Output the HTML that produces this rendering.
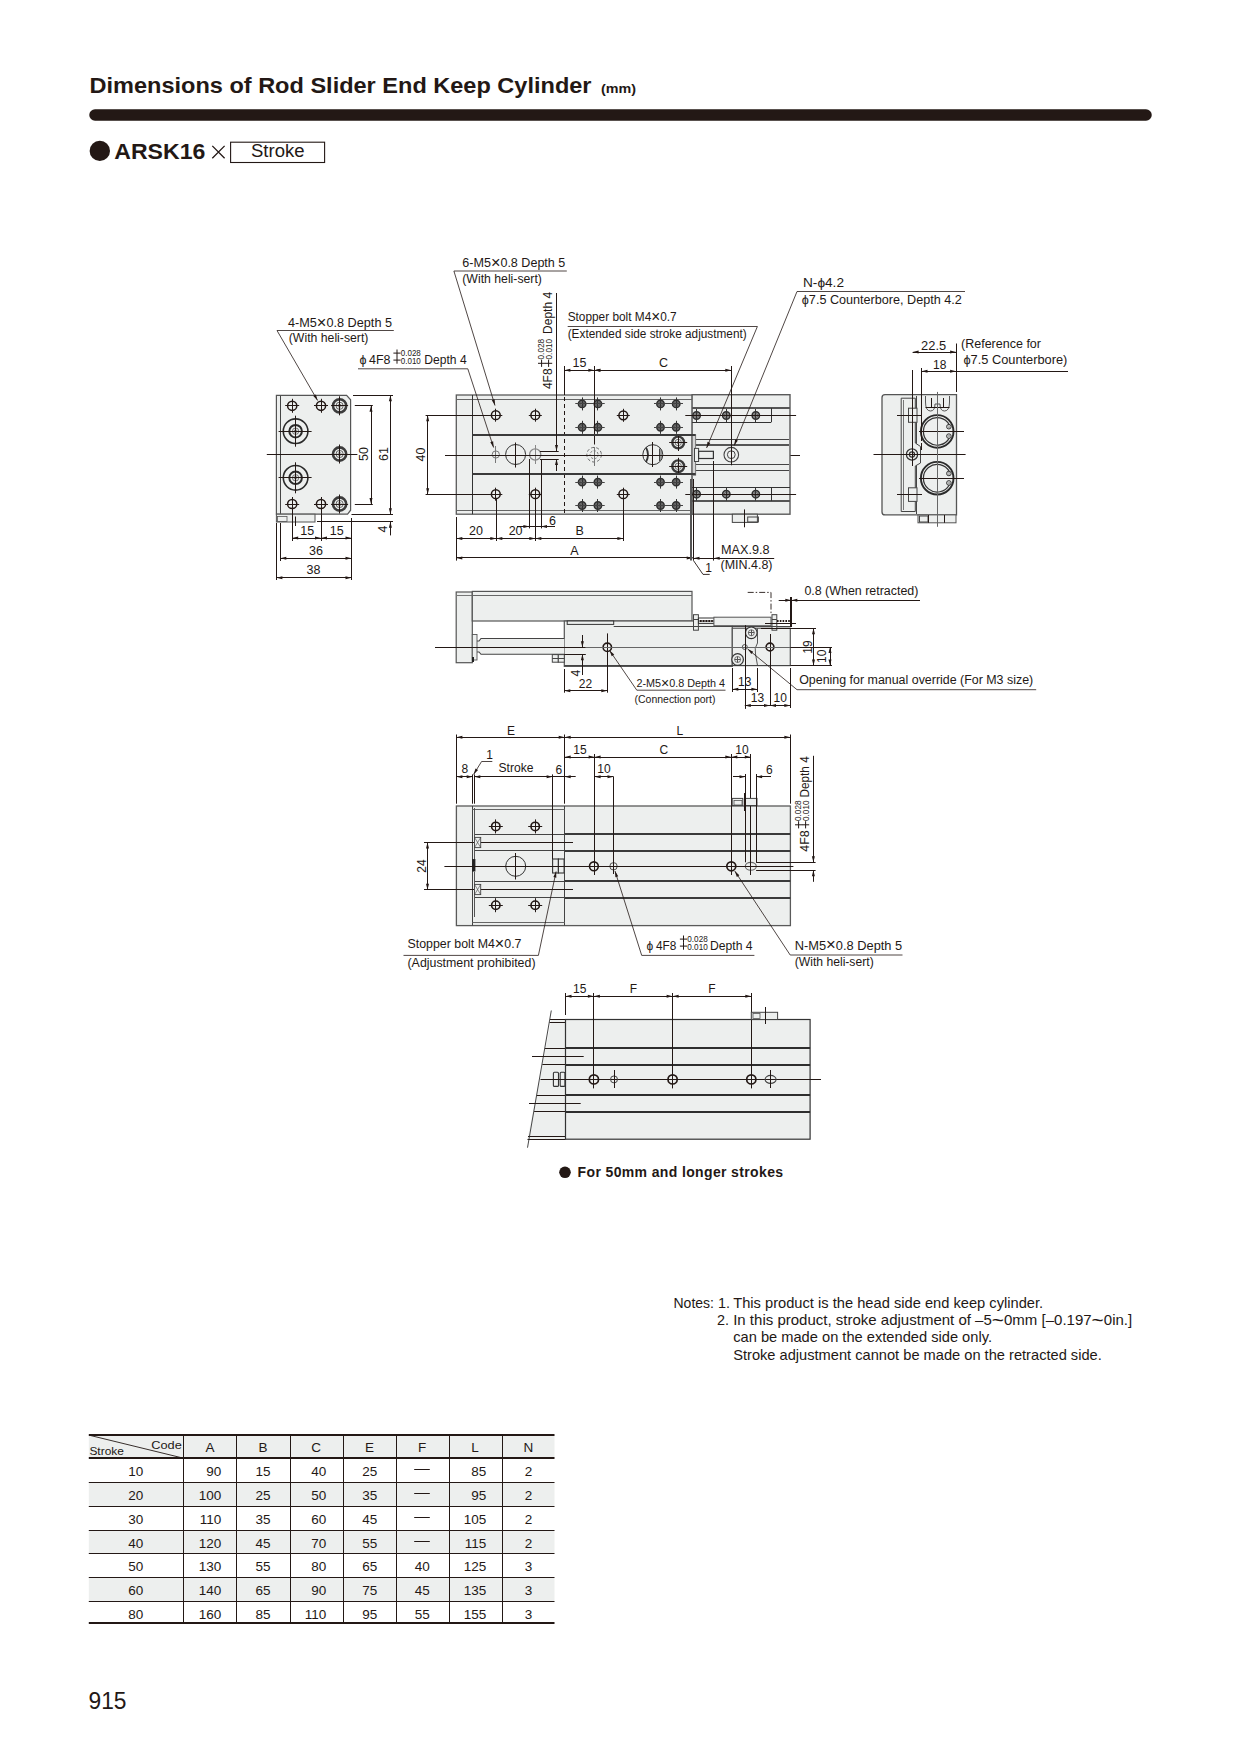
<!DOCTYPE html>
<html><head><meta charset="utf-8">
<style>
html,body{margin:0;padding:0;background:#fff;}
body{width:1240px;height:1754px;overflow:hidden;position:relative;}
svg{position:absolute;left:0;top:0;}
text{font-family:"Liberation Sans",sans-serif;fill:#231815;}
.b{font-weight:bold;}
</style></head>
<body>
<svg width="1240" height="1754" viewBox="0 0 1240 1754">
<!-- HEADER -->
<g id="header">
<text x="89.5" y="92.7" class="b" font-size="21.8" textLength="502" lengthAdjust="spacingAndGlyphs">Dimensions of Rod Slider End Keep Cylinder</text>
<text x="601" y="92.6" class="b" font-size="12.5" textLength="35" lengthAdjust="spacingAndGlyphs">(mm)</text>
<line x1="95" y1="115" x2="1146" y2="115" stroke="#231815" stroke-width="11.5" stroke-linecap="round"/>
<circle cx="99.8" cy="150.9" r="10.2" fill="#231815"/>
<text x="114.3" y="159.4" class="b" font-size="21.2" textLength="91" lengthAdjust="spacingAndGlyphs">ARSK16</text>
<path d="M212.3,145.9 L224.6,158.2 M224.6,145.9 L212.3,158.2" stroke="#231815" stroke-width="1.3" fill="none"/>
<rect x="230.6" y="142.2" width="94" height="20.3" fill="none" stroke="#231815" stroke-width="1.1"/>
<text x="251" y="157.3" font-size="17.5" textLength="53.5" lengthAdjust="spacingAndGlyphs">Stroke</text>
</g>

<!-- DRAWINGS -->
<g id="drawings">
<path d="M276.4,395.3 L346.6,395.3 L350.6,399.8 L350.6,510.2 L347.6,514.2 L276.4,514.2 Z" fill="#edefee" stroke="#555" stroke-width="1.2" />
<line x1="280.5" y1="395.8" x2="280.5" y2="513.8" stroke="#444" stroke-width="1" />
<rect x="276.4" y="514.2" width="38.6" height="7.8" fill="#edefee" stroke="#555" stroke-width="1" />
<rect x="277.5" y="516.5" width="9.5" height="5" fill="none" stroke="#555" stroke-width="0.8" />
<line x1="295.5" y1="516.5" x2="295.5" y2="526" stroke="#231815" stroke-width="1" />
<circle cx="292.2" cy="405.8" r="4.6" fill="none" stroke="#231815" stroke-width="1.5" />
<line x1="285.2" y1="405.5" x2="299.2" y2="405.5" stroke="#231815" stroke-width="1" />
<line x1="292.5" y1="398.8" x2="292.5" y2="412.8" stroke="#231815" stroke-width="1" />
<circle cx="321" cy="405.8" r="4.6" fill="none" stroke="#231815" stroke-width="1.5" />
<line x1="314" y1="405.5" x2="328" y2="405.5" stroke="#231815" stroke-width="1" />
<line x1="321.5" y1="398.8" x2="321.5" y2="412.8" stroke="#231815" stroke-width="1" />
<circle cx="292.2" cy="504" r="4.6" fill="none" stroke="#231815" stroke-width="1.5" />
<line x1="285.2" y1="504.5" x2="299.2" y2="504.5" stroke="#231815" stroke-width="1" />
<line x1="292.5" y1="497" x2="292.5" y2="511" stroke="#231815" stroke-width="1" />
<circle cx="321" cy="504" r="4.6" fill="none" stroke="#231815" stroke-width="1.5" />
<line x1="314" y1="504.5" x2="328" y2="504.5" stroke="#231815" stroke-width="1" />
<line x1="321.5" y1="497" x2="321.5" y2="511" stroke="#231815" stroke-width="1" />
<circle cx="339.6" cy="405.8" r="6.6" fill="none" stroke="#3c3c3c" stroke-width="2.6" />
<circle cx="339.6" cy="405.8" r="3.6" fill="none" stroke="#444" stroke-width="0.8" />
<circle cx="339.6" cy="405.8" r="1.6" fill="none" stroke="#444" stroke-width="0.6" />
<line x1="331.1" y1="405.5" x2="348.1" y2="405.5" stroke="#231815" stroke-width="1" />
<line x1="339.5" y1="396.3" x2="339.5" y2="415.3" stroke="#231815" stroke-width="1" />
<circle cx="339.6" cy="454" r="6.6" fill="none" stroke="#3c3c3c" stroke-width="2.6" />
<circle cx="339.6" cy="454" r="3.6" fill="none" stroke="#444" stroke-width="0.8" />
<circle cx="339.6" cy="454" r="1.6" fill="none" stroke="#444" stroke-width="0.6" />
<line x1="331.1" y1="454.5" x2="348.1" y2="454.5" stroke="#231815" stroke-width="1" />
<line x1="339.5" y1="444.5" x2="339.5" y2="463.5" stroke="#231815" stroke-width="1" />
<circle cx="339.6" cy="504" r="6.6" fill="none" stroke="#3c3c3c" stroke-width="2.6" />
<circle cx="339.6" cy="504" r="3.6" fill="none" stroke="#444" stroke-width="0.8" />
<circle cx="339.6" cy="504" r="1.6" fill="none" stroke="#444" stroke-width="0.6" />
<line x1="331.1" y1="504.5" x2="348.1" y2="504.5" stroke="#231815" stroke-width="1" />
<line x1="339.5" y1="494.5" x2="339.5" y2="513.5" stroke="#231815" stroke-width="1" />
<circle cx="295.6" cy="431.2" r="12.3" fill="none" stroke="#2a2a2a" stroke-width="1.6" />
<circle cx="295.6" cy="431.2" r="6.3" fill="none" stroke="#2a2a2a" stroke-width="2" />
<circle cx="295.6" cy="431.2" r="3.2" fill="none" stroke="#444" stroke-width="0.7" />
<circle cx="295.6" cy="431.2" r="1.4" fill="none" stroke="#444" stroke-width="0.6" />
<line x1="278.6" y1="431.5" x2="311.6" y2="431.5" stroke="#231815" stroke-width="1" />
<line x1="295.5" y1="415.7" x2="295.5" y2="446.7" stroke="#231815" stroke-width="1" />
<circle cx="295.6" cy="477.8" r="12.3" fill="none" stroke="#2a2a2a" stroke-width="1.6" />
<circle cx="295.6" cy="477.8" r="6.3" fill="none" stroke="#2a2a2a" stroke-width="2" />
<circle cx="295.6" cy="477.8" r="3.2" fill="none" stroke="#444" stroke-width="0.7" />
<circle cx="295.6" cy="477.8" r="1.4" fill="none" stroke="#444" stroke-width="0.6" />
<line x1="278.6" y1="477.5" x2="311.6" y2="477.5" stroke="#231815" stroke-width="1" />
<line x1="295.5" y1="462.3" x2="295.5" y2="493.3" stroke="#231815" stroke-width="1" />
<line x1="266.8" y1="454.5" x2="357.4" y2="454.5" stroke="#231815" stroke-width="1" />
<line x1="354.8" y1="405.5" x2="372.8" y2="405.5" stroke="#231815" stroke-width="1" />
<line x1="354.8" y1="504.5" x2="372.8" y2="504.5" stroke="#231815" stroke-width="1" />
<line x1="371.5" y1="405.8" x2="371.5" y2="504" stroke="#231815" stroke-width="1" />
<polygon points="371,405.8 372.5,411.8 369.5,411.8" fill="#231815"/>
<polygon points="371,504 369.5,498 372.5,498" fill="#231815"/>
<line x1="353" y1="395.5" x2="393" y2="395.5" stroke="#231815" stroke-width="1" />
<line x1="351.5" y1="514.5" x2="393" y2="514.5" stroke="#231815" stroke-width="1" />
<line x1="317" y1="521.5" x2="393" y2="521.5" stroke="#231815" stroke-width="1" />
<line x1="390.5" y1="395.3" x2="390.5" y2="514.2" stroke="#231815" stroke-width="1" />
<polygon points="390.4,395.3 391.9,401.3 388.9,401.3" fill="#231815"/>
<polygon points="390.4,514.2 388.9,508.2 391.9,508.2" fill="#231815"/>
<line x1="390.5" y1="521.8" x2="390.5" y2="535.4" stroke="#231815" stroke-width="1" />
<polygon points="390.4,521.8 391.9,527.8 388.9,527.8" fill="#231815"/>
<text x="367.8" y="454" font-size="12.5" text-anchor="middle" transform="rotate(-90 367.8 454)" >50</text>
<text x="387.6" y="454" font-size="12.5" text-anchor="middle" transform="rotate(-90 387.6 454)" >61</text>
<text x="387.2" y="529" font-size="12.5" text-anchor="middle" transform="rotate(-90 387.2 529)" >4</text>
<line x1="292.5" y1="509" x2="292.5" y2="541" stroke="#231815" stroke-width="1" />
<line x1="321.5" y1="509" x2="321.5" y2="541" stroke="#231815" stroke-width="1" />
<line x1="351.5" y1="518" x2="351.5" y2="580" stroke="#231815" stroke-width="1" />
<line x1="280.5" y1="523" x2="280.5" y2="561" stroke="#231815" stroke-width="1" />
<line x1="276.5" y1="523" x2="276.5" y2="580" stroke="#231815" stroke-width="1" />
<line x1="292.2" y1="538.5" x2="321" y2="538.5" stroke="#231815" stroke-width="1" />
<polygon points="292.2,538 298.2,536.5 298.2,539.5" fill="#231815"/>
<polygon points="321,538 315,539.5 315,536.5" fill="#231815"/>
<line x1="321" y1="538.5" x2="351.5" y2="538.5" stroke="#231815" stroke-width="1" />
<polygon points="321,538 327,536.5 327,539.5" fill="#231815"/>
<polygon points="351.5,538 345.5,539.5 345.5,536.5" fill="#231815"/>
<line x1="280.3" y1="558.5" x2="351.5" y2="558.5" stroke="#231815" stroke-width="1" />
<polygon points="280.3,558.3 286.3,556.8 286.3,559.8" fill="#231815"/>
<polygon points="351.5,558.3 345.5,559.8 345.5,556.8" fill="#231815"/>
<line x1="276.4" y1="577.5" x2="351.5" y2="577.5" stroke="#231815" stroke-width="1" />
<polygon points="276.4,577.7 282.4,576.2 282.4,579.2" fill="#231815"/>
<polygon points="351.5,577.7 345.5,579.2 345.5,576.2" fill="#231815"/>
<text x="307.2" y="535.4" font-size="12.5" text-anchor="middle" >15</text>
<text x="336.8" y="535.4" font-size="12.5" text-anchor="middle" >15</text>
<text x="316" y="554.9" font-size="12.5" text-anchor="middle" >36</text>
<text x="313.5" y="574.3" font-size="12.5" text-anchor="middle" >38</text>
<text x="288" y="327" font-size="12" textLength="104" lengthAdjust="spacingAndGlyphs" >4-M5<tspan font-size="15.6" dy="0.8">×</tspan><tspan dy="-0.8">0.8 Depth 5</tspan></text>
<text x="288.8" y="342.3" font-size="12" textLength="79.6" lengthAdjust="spacingAndGlyphs" >(With heli-sert)</text>
<polyline points="393.8,330.5 277,330.5 317.6,400.5" fill="none" stroke="#231815" stroke-width="0.8" />
<polygon points="317.6,400.5 313.29,396.06 315.89,394.56" fill="#231815"/>
<text x="359.5" y="363.5" font-size="12.5" >ϕ</text>
<text x="369" y="363.5" font-size="12.5" textLength="21.5" lengthAdjust="spacingAndGlyphs" >4F8</text>
<g transform="translate(393 363.5)">
<path d="M0.4,-10.4 L7.6,-10.4 M4,-14 L4,-6.8" stroke="#231815" stroke-width="1.0" fill="none"/>
<path d="M0.4,-3.4 L7.6,-3.4 M4,-7 L4,0.2" stroke="#231815" stroke-width="1.0" fill="none"/>
<text x="7.8" y="-7.6" font-size="8.3" textLength="20" lengthAdjust="spacingAndGlyphs">0.028</text>
<text x="7.8" y="0" font-size="8.3" textLength="20" lengthAdjust="spacingAndGlyphs">0.010</text>
</g>
<text x="424.3" y="363.5" font-size="12.5" textLength="42.3" lengthAdjust="spacingAndGlyphs" >Depth 4</text>
<rect x="456.3" y="395" width="236" height="119.2" fill="#edefee" stroke="#5a5a5a" stroke-width="1.3" />
<line x1="456.3" y1="399.5" x2="692.3" y2="399.5" stroke="#666" stroke-width="1" />
<line x1="456.3" y1="510.5" x2="692.3" y2="510.5" stroke="#666" stroke-width="1" />
<line x1="472.5" y1="395" x2="472.5" y2="514.2" stroke="#333" stroke-width="1" />
<line x1="472.4" y1="435" x2="692.3" y2="435" stroke="#3a3a3a" stroke-width="2" />
<line x1="472.4" y1="474" x2="692.3" y2="474" stroke="#3a3a3a" stroke-width="2" />
<line x1="564.5" y1="366" x2="564.5" y2="395" stroke="#231815" stroke-width="1" />
<line x1="564.5" y1="397" x2="564.5" y2="514.2" stroke="#231815" stroke-width="1" stroke-dasharray="4,3"/>
<circle cx="495.8" cy="415.2" r="4.4" fill="none" stroke="#231815" stroke-width="1.5" />
<line x1="489.3" y1="415.5" x2="502.3" y2="415.5" stroke="#231815" stroke-width="1" />
<line x1="495.5" y1="408.7" x2="495.5" y2="421.7" stroke="#231815" stroke-width="1" />
<circle cx="535.3" cy="415.2" r="4.4" fill="none" stroke="#231815" stroke-width="1.5" />
<line x1="528.8" y1="415.5" x2="541.8" y2="415.5" stroke="#231815" stroke-width="1" />
<line x1="535.5" y1="408.7" x2="535.5" y2="421.7" stroke="#231815" stroke-width="1" />
<circle cx="495.8" cy="494.2" r="4.4" fill="none" stroke="#231815" stroke-width="1.5" />
<line x1="489.3" y1="494.5" x2="502.3" y2="494.5" stroke="#231815" stroke-width="1" />
<line x1="495.5" y1="487.7" x2="495.5" y2="500.7" stroke="#231815" stroke-width="1" />
<circle cx="535.3" cy="494.2" r="4.4" fill="none" stroke="#231815" stroke-width="1.5" />
<line x1="528.8" y1="494.5" x2="541.8" y2="494.5" stroke="#231815" stroke-width="1" />
<line x1="535.5" y1="487.7" x2="535.5" y2="500.7" stroke="#231815" stroke-width="1" />
<circle cx="623.3" cy="415.3" r="4.4" fill="none" stroke="#231815" stroke-width="1.5" />
<line x1="616.8" y1="415.5" x2="629.8" y2="415.5" stroke="#231815" stroke-width="1" />
<line x1="623.5" y1="408.8" x2="623.5" y2="421.8" stroke="#231815" stroke-width="1" />
<circle cx="623.3" cy="494.2" r="4.4" fill="none" stroke="#231815" stroke-width="1.5" />
<line x1="616.8" y1="494.5" x2="629.8" y2="494.5" stroke="#231815" stroke-width="1" />
<line x1="623.5" y1="487.7" x2="623.5" y2="500.7" stroke="#231815" stroke-width="1" />
<circle cx="582.1" cy="403.9" r="3.7" fill="#707070" stroke="#2e2e2e" stroke-width="1.5" />
<circle cx="582.1" cy="403.9" r="2" fill="none" stroke="#555" stroke-width="0.7" />
<line x1="575.6" y1="403.5" x2="588.6" y2="403.5" stroke="#333" stroke-width="1" />
<line x1="582.5" y1="397.4" x2="582.5" y2="410.4" stroke="#333" stroke-width="1" />
<circle cx="582.1" cy="427.3" r="3.7" fill="#707070" stroke="#2e2e2e" stroke-width="1.5" />
<circle cx="582.1" cy="427.3" r="2" fill="none" stroke="#555" stroke-width="0.7" />
<line x1="575.6" y1="427.5" x2="588.6" y2="427.5" stroke="#333" stroke-width="1" />
<line x1="582.5" y1="420.8" x2="582.5" y2="433.8" stroke="#333" stroke-width="1" />
<circle cx="582.1" cy="482.1" r="3.7" fill="#707070" stroke="#2e2e2e" stroke-width="1.5" />
<circle cx="582.1" cy="482.1" r="2" fill="none" stroke="#555" stroke-width="0.7" />
<line x1="575.6" y1="482.5" x2="588.6" y2="482.5" stroke="#333" stroke-width="1" />
<line x1="582.5" y1="475.6" x2="582.5" y2="488.6" stroke="#333" stroke-width="1" />
<circle cx="582.1" cy="505.5" r="3.7" fill="#707070" stroke="#2e2e2e" stroke-width="1.5" />
<circle cx="582.1" cy="505.5" r="2" fill="none" stroke="#555" stroke-width="0.7" />
<line x1="575.6" y1="505.5" x2="588.6" y2="505.5" stroke="#333" stroke-width="1" />
<line x1="582.5" y1="499" x2="582.5" y2="512" stroke="#333" stroke-width="1" />
<circle cx="597.9" cy="403.9" r="3.7" fill="#707070" stroke="#2e2e2e" stroke-width="1.5" />
<circle cx="597.9" cy="403.9" r="2" fill="none" stroke="#555" stroke-width="0.7" />
<line x1="591.4" y1="403.5" x2="604.4" y2="403.5" stroke="#333" stroke-width="1" />
<line x1="597.5" y1="397.4" x2="597.5" y2="410.4" stroke="#333" stroke-width="1" />
<circle cx="597.9" cy="427.3" r="3.7" fill="#707070" stroke="#2e2e2e" stroke-width="1.5" />
<circle cx="597.9" cy="427.3" r="2" fill="none" stroke="#555" stroke-width="0.7" />
<line x1="591.4" y1="427.5" x2="604.4" y2="427.5" stroke="#333" stroke-width="1" />
<line x1="597.5" y1="420.8" x2="597.5" y2="433.8" stroke="#333" stroke-width="1" />
<circle cx="597.9" cy="482.1" r="3.7" fill="#707070" stroke="#2e2e2e" stroke-width="1.5" />
<circle cx="597.9" cy="482.1" r="2" fill="none" stroke="#555" stroke-width="0.7" />
<line x1="591.4" y1="482.5" x2="604.4" y2="482.5" stroke="#333" stroke-width="1" />
<line x1="597.5" y1="475.6" x2="597.5" y2="488.6" stroke="#333" stroke-width="1" />
<circle cx="597.9" cy="505.5" r="3.7" fill="#707070" stroke="#2e2e2e" stroke-width="1.5" />
<circle cx="597.9" cy="505.5" r="2" fill="none" stroke="#555" stroke-width="0.7" />
<line x1="591.4" y1="505.5" x2="604.4" y2="505.5" stroke="#333" stroke-width="1" />
<line x1="597.5" y1="499" x2="597.5" y2="512" stroke="#333" stroke-width="1" />
<circle cx="660.5" cy="403.9" r="3.7" fill="#707070" stroke="#2e2e2e" stroke-width="1.5" />
<circle cx="660.5" cy="403.9" r="2" fill="none" stroke="#555" stroke-width="0.7" />
<line x1="654" y1="403.5" x2="667" y2="403.5" stroke="#333" stroke-width="1" />
<line x1="660.5" y1="397.4" x2="660.5" y2="410.4" stroke="#333" stroke-width="1" />
<circle cx="660.5" cy="427.3" r="3.7" fill="#707070" stroke="#2e2e2e" stroke-width="1.5" />
<circle cx="660.5" cy="427.3" r="2" fill="none" stroke="#555" stroke-width="0.7" />
<line x1="654" y1="427.5" x2="667" y2="427.5" stroke="#333" stroke-width="1" />
<line x1="660.5" y1="420.8" x2="660.5" y2="433.8" stroke="#333" stroke-width="1" />
<circle cx="660.5" cy="482.1" r="3.7" fill="#707070" stroke="#2e2e2e" stroke-width="1.5" />
<circle cx="660.5" cy="482.1" r="2" fill="none" stroke="#555" stroke-width="0.7" />
<line x1="654" y1="482.5" x2="667" y2="482.5" stroke="#333" stroke-width="1" />
<line x1="660.5" y1="475.6" x2="660.5" y2="488.6" stroke="#333" stroke-width="1" />
<circle cx="660.5" cy="505.5" r="3.7" fill="#707070" stroke="#2e2e2e" stroke-width="1.5" />
<circle cx="660.5" cy="505.5" r="2" fill="none" stroke="#555" stroke-width="0.7" />
<line x1="654" y1="505.5" x2="667" y2="505.5" stroke="#333" stroke-width="1" />
<line x1="660.5" y1="499" x2="660.5" y2="512" stroke="#333" stroke-width="1" />
<circle cx="676.2" cy="403.9" r="3.7" fill="#707070" stroke="#2e2e2e" stroke-width="1.5" />
<circle cx="676.2" cy="403.9" r="2" fill="none" stroke="#555" stroke-width="0.7" />
<line x1="669.7" y1="403.5" x2="682.7" y2="403.5" stroke="#333" stroke-width="1" />
<line x1="676.5" y1="397.4" x2="676.5" y2="410.4" stroke="#333" stroke-width="1" />
<circle cx="676.2" cy="427.3" r="3.7" fill="#707070" stroke="#2e2e2e" stroke-width="1.5" />
<circle cx="676.2" cy="427.3" r="2" fill="none" stroke="#555" stroke-width="0.7" />
<line x1="669.7" y1="427.5" x2="682.7" y2="427.5" stroke="#333" stroke-width="1" />
<line x1="676.5" y1="420.8" x2="676.5" y2="433.8" stroke="#333" stroke-width="1" />
<circle cx="676.2" cy="482.1" r="3.7" fill="#707070" stroke="#2e2e2e" stroke-width="1.5" />
<circle cx="676.2" cy="482.1" r="2" fill="none" stroke="#555" stroke-width="0.7" />
<line x1="669.7" y1="482.5" x2="682.7" y2="482.5" stroke="#333" stroke-width="1" />
<line x1="676.5" y1="475.6" x2="676.5" y2="488.6" stroke="#333" stroke-width="1" />
<circle cx="676.2" cy="505.5" r="3.7" fill="#707070" stroke="#2e2e2e" stroke-width="1.5" />
<circle cx="676.2" cy="505.5" r="2" fill="none" stroke="#555" stroke-width="0.7" />
<line x1="669.7" y1="505.5" x2="682.7" y2="505.5" stroke="#333" stroke-width="1" />
<line x1="676.5" y1="499" x2="676.5" y2="512" stroke="#333" stroke-width="1" />
<line x1="575.5" y1="403.5" x2="604.5" y2="403.5" stroke="#444" stroke-width="1" />
<line x1="654" y1="403.5" x2="683" y2="403.5" stroke="#444" stroke-width="1" />
<line x1="575.5" y1="427.5" x2="604.5" y2="427.5" stroke="#444" stroke-width="1" />
<line x1="654" y1="427.5" x2="683" y2="427.5" stroke="#444" stroke-width="1" />
<line x1="575.5" y1="482.5" x2="604.5" y2="482.5" stroke="#444" stroke-width="1" />
<line x1="654" y1="482.5" x2="683" y2="482.5" stroke="#444" stroke-width="1" />
<line x1="575.5" y1="505.5" x2="604.5" y2="505.5" stroke="#444" stroke-width="1" />
<line x1="654" y1="505.5" x2="683" y2="505.5" stroke="#444" stroke-width="1" />
<circle cx="678.2" cy="442.5" r="5.9" fill="none" stroke="#3c3c3c" stroke-width="2.4" />
<circle cx="678.2" cy="442.5" r="3.2" fill="none" stroke="#555" stroke-width="0.8" />
<circle cx="678.2" cy="442.5" r="1.2" fill="none" stroke="#555" stroke-width="0.6" />
<line x1="669.2" y1="442.5" x2="687.2" y2="442.5" stroke="#231815" stroke-width="1" />
<line x1="678.5" y1="434" x2="678.5" y2="451" stroke="#231815" stroke-width="1" />
<circle cx="678.2" cy="466.3" r="5.9" fill="none" stroke="#3c3c3c" stroke-width="2.4" />
<circle cx="678.2" cy="466.3" r="3.2" fill="none" stroke="#555" stroke-width="0.8" />
<circle cx="678.2" cy="466.3" r="1.2" fill="none" stroke="#555" stroke-width="0.6" />
<line x1="669.2" y1="466.5" x2="687.2" y2="466.5" stroke="#231815" stroke-width="1" />
<line x1="678.5" y1="457.8" x2="678.5" y2="474.8" stroke="#231815" stroke-width="1" />
<circle cx="495.8" cy="454.5" r="3.6" fill="none" stroke="#777" stroke-width="1" />
<line x1="495.5" y1="446" x2="495.5" y2="463" stroke="#777" stroke-width="1" />
<circle cx="515.6" cy="454.5" r="10" fill="none" stroke="#333" stroke-width="1" />
<line x1="515.5" y1="442.5" x2="515.5" y2="467.5" stroke="#231815" stroke-width="1" />
<circle cx="535.2" cy="454.5" r="5.6" fill="none" stroke="#888" stroke-width="1.3" />
<line x1="535.5" y1="445" x2="535.5" y2="464" stroke="#888" stroke-width="1" />
<circle cx="594.1" cy="454.7" r="7.3" fill="none" stroke="#666" stroke-width="1" stroke-dasharray="3,2.2"/>
<circle cx="594.1" cy="454.7" r="4" fill="none" stroke="#666" stroke-width="0.9" stroke-dasharray="2,1.6"/>
<line x1="594.5" y1="366" x2="594.5" y2="444.5" stroke="#231815" stroke-width="1" />
<line x1="594.5" y1="447" x2="594.5" y2="466" stroke="#777" stroke-width="1" />
<circle cx="652.8" cy="454.7" r="10" fill="none" stroke="#333" stroke-width="1" />
<line x1="652.5" y1="442" x2="652.5" y2="467" stroke="#231815" stroke-width="1" />
<path d="M646.0,447.5 Q650,454.7 646.0,462" fill="none" stroke="#333" stroke-width="1.8" />
<path d="M659.5,448.5 L659.5,461 M661,449.5 L661,460" fill="none" stroke="#333" stroke-width="0.9" />
<line x1="445" y1="455.5" x2="800" y2="455.5" stroke="#231815" stroke-width="1" />
<rect x="692.3" y="434.8" width="3.3" height="40.4" fill="#d5d5d5" stroke="#777" stroke-width="1" />
<rect x="692.1" y="394.7" width="97.9" height="119.5" fill="#edefee" stroke="#5a5a5a" stroke-width="1.4" />
<line x1="692.1" y1="408" x2="790" y2="408" stroke="#555" stroke-width="2" />
<line x1="692.1" y1="422.5" x2="771" y2="422.5" stroke="#333" stroke-width="1" />
<line x1="771.5" y1="408" x2="771.5" y2="422.3" stroke="#333" stroke-width="1" />
<line x1="694" y1="439.5" x2="789" y2="439.5" stroke="#444" stroke-width="1" />
<line x1="694" y1="445" x2="789" y2="445" stroke="#555" stroke-width="2" />
<line x1="694" y1="464.5" x2="789" y2="464.5" stroke="#444" stroke-width="1" />
<line x1="694" y1="470.5" x2="789" y2="470.5" stroke="#444" stroke-width="1" />
<line x1="692.1" y1="487.5" x2="790" y2="487.5" stroke="#333" stroke-width="1" />
<line x1="692.1" y1="501" x2="790" y2="501" stroke="#555" stroke-width="2" />
<line x1="771.5" y1="487.1" x2="771.5" y2="501" stroke="#333" stroke-width="1" />
<circle cx="696.6" cy="415.5" r="3.7" fill="#9c9c9c" stroke="#2e2e2e" stroke-width="1.5" />
<circle cx="696.6" cy="415.5" r="2" fill="none" stroke="#555" stroke-width="0.7" />
<line x1="690.1" y1="415.5" x2="703.1" y2="415.5" stroke="#333" stroke-width="1" />
<line x1="696.5" y1="409" x2="696.5" y2="422" stroke="#333" stroke-width="1" />
<circle cx="696.6" cy="494.2" r="3.7" fill="#9c9c9c" stroke="#2e2e2e" stroke-width="1.5" />
<circle cx="696.6" cy="494.2" r="2" fill="none" stroke="#555" stroke-width="0.7" />
<line x1="690.1" y1="494.5" x2="703.1" y2="494.5" stroke="#333" stroke-width="1" />
<line x1="696.5" y1="487.7" x2="696.5" y2="500.7" stroke="#333" stroke-width="1" />
<circle cx="726.3" cy="415.5" r="3.7" fill="#9c9c9c" stroke="#2e2e2e" stroke-width="1.5" />
<circle cx="726.3" cy="415.5" r="2" fill="none" stroke="#555" stroke-width="0.7" />
<line x1="719.8" y1="415.5" x2="732.8" y2="415.5" stroke="#333" stroke-width="1" />
<line x1="726.5" y1="409" x2="726.5" y2="422" stroke="#333" stroke-width="1" />
<circle cx="726.3" cy="494.2" r="3.7" fill="#9c9c9c" stroke="#2e2e2e" stroke-width="1.5" />
<circle cx="726.3" cy="494.2" r="2" fill="none" stroke="#555" stroke-width="0.7" />
<line x1="719.8" y1="494.5" x2="732.8" y2="494.5" stroke="#333" stroke-width="1" />
<line x1="726.5" y1="487.7" x2="726.5" y2="500.7" stroke="#333" stroke-width="1" />
<circle cx="755.8" cy="415.5" r="3.7" fill="#9c9c9c" stroke="#2e2e2e" stroke-width="1.5" />
<circle cx="755.8" cy="415.5" r="2" fill="none" stroke="#555" stroke-width="0.7" />
<line x1="749.3" y1="415.5" x2="762.3" y2="415.5" stroke="#333" stroke-width="1" />
<line x1="755.5" y1="409" x2="755.5" y2="422" stroke="#333" stroke-width="1" />
<circle cx="755.8" cy="494.2" r="3.7" fill="#9c9c9c" stroke="#2e2e2e" stroke-width="1.5" />
<circle cx="755.8" cy="494.2" r="2" fill="none" stroke="#555" stroke-width="0.7" />
<line x1="749.3" y1="494.5" x2="762.3" y2="494.5" stroke="#333" stroke-width="1" />
<line x1="755.5" y1="487.7" x2="755.5" y2="500.7" stroke="#333" stroke-width="1" />
<line x1="685.3" y1="415.5" x2="796.1" y2="415.5" stroke="#231815" stroke-width="1" />
<line x1="685.3" y1="494.5" x2="796.1" y2="494.5" stroke="#231815" stroke-width="1" />
<circle cx="731.3" cy="454.7" r="7.3" fill="none" stroke="#444" stroke-width="1.1" />
<circle cx="731.3" cy="454.7" r="3.9" fill="none" stroke="#444" stroke-width="1" />
<line x1="731.5" y1="366" x2="731.5" y2="465.3" stroke="#231815" stroke-width="1" />
<rect x="692.3" y="434.8" width="3.3" height="40.4" fill="#d5d5d5" stroke="#777" stroke-width="1" />
<line x1="472.4" y1="435" x2="695.6" y2="435" stroke="#3a3a3a" stroke-width="2" />
<line x1="472.4" y1="474" x2="695.6" y2="474" stroke="#3a3a3a" stroke-width="2" />
<rect x="694.5" y="448.4" width="4.1" height="13.1" fill="#edefee" stroke="#444" stroke-width="1" />
<rect x="698.6" y="451.3" width="14.8" height="7.2" fill="#edefee" stroke="#333" stroke-width="1.2" />
<rect x="732.3" y="514.2" width="25.1" height="8.2" fill="#edefee" stroke="#444" stroke-width="1" />
<rect x="747.7" y="517" width="10.7" height="5" fill="none" stroke="#444" stroke-width="1" />
<line x1="744.5" y1="509.4" x2="744.5" y2="527.3" stroke="#231815" stroke-width="1" />
<line x1="425.6" y1="415.5" x2="491" y2="415.5" stroke="#231815" stroke-width="1" />
<line x1="425.6" y1="494.5" x2="491" y2="494.5" stroke="#231815" stroke-width="1" />
<line x1="427.5" y1="415.2" x2="427.5" y2="494.2" stroke="#231815" stroke-width="1" />
<polygon points="427.7,415.2 429.2,421.2 426.2,421.2" fill="#231815"/>
<polygon points="427.7,494.2 426.2,488.2 429.2,488.2" fill="#231815"/>
<text x="424.6" y="454.5" font-size="12.5" text-anchor="middle" transform="rotate(-90 424.6 454.5)" >40</text>
<line x1="456.5" y1="517" x2="456.5" y2="560.6" stroke="#231815" stroke-width="1" />
<line x1="496.5" y1="498" x2="496.5" y2="541" stroke="#231815" stroke-width="1" />
<line x1="535.5" y1="498" x2="535.5" y2="541" stroke="#231815" stroke-width="1" />
<line x1="623.5" y1="498" x2="623.5" y2="541" stroke="#231815" stroke-width="1" />
<line x1="456.3" y1="538.5" x2="496.3" y2="538.5" stroke="#231815" stroke-width="1" />
<polygon points="456.3,538.4 462.3,536.9 462.3,539.9" fill="#231815"/>
<polygon points="496.3,538.4 490.3,539.9 490.3,536.9" fill="#231815"/>
<line x1="496.3" y1="538.5" x2="535.3" y2="538.5" stroke="#231815" stroke-width="1" />
<polygon points="496.3,538.4 502.3,536.9 502.3,539.9" fill="#231815"/>
<polygon points="535.3,538.4 529.3,539.9 529.3,536.9" fill="#231815"/>
<line x1="535.3" y1="538.5" x2="623.4" y2="538.5" stroke="#231815" stroke-width="1" />
<polygon points="535.3,538.4 541.3,536.9 541.3,539.9" fill="#231815"/>
<polygon points="623.4,538.4 617.4,539.9 617.4,536.9" fill="#231815"/>
<text x="476" y="535" font-size="12.5" text-anchor="middle" >20</text>
<text x="515.6" y="535" font-size="12.5" text-anchor="middle" >20</text>
<text x="579.7" y="535" font-size="12.5" text-anchor="middle" >B</text>
<line x1="529.5" y1="459" x2="529.5" y2="528.4" stroke="#231815" stroke-width="1" />
<line x1="541.5" y1="459" x2="541.5" y2="528.4" stroke="#231815" stroke-width="1" />
<line x1="540" y1="451.5" x2="558.7" y2="451.5" stroke="#231815" stroke-width="1" />
<line x1="540" y1="459.5" x2="558.7" y2="459.5" stroke="#231815" stroke-width="1" />
<line x1="517" y1="526.5" x2="555" y2="526.5" stroke="#231815" stroke-width="1" />
<polygon points="529.4,526.5 523.4,528 523.4,525" fill="#231815"/>
<polygon points="541,526.5 547,525 547,528" fill="#231815"/>
<text x="552.6" y="524.6" font-size="12.5" text-anchor="middle" >6</text>
<line x1="456.3" y1="557.5" x2="692.7" y2="557.5" stroke="#231815" stroke-width="1" />
<polygon points="456.3,557.9 462.3,556.4 462.3,559.4" fill="#231815"/>
<polygon points="692.7,557.9 686.7,559.4 686.7,556.4" fill="#231815"/>
<text x="574.5" y="554.5" font-size="12.5" text-anchor="middle" >A</text>
<line x1="556.5" y1="293" x2="556.5" y2="451" stroke="#231815" stroke-width="1" />
<polygon points="556.5,451 555,445 558,445" fill="#231815"/>
<line x1="556.5" y1="459" x2="556.5" y2="471" stroke="#231815" stroke-width="1" />
<polygon points="556.5,459 558,465 555,465" fill="#231815"/>
<line x1="691" y1="479" x2="691" y2="560.6" stroke="#555" stroke-width="2" />
<line x1="693.5" y1="479" x2="693.5" y2="560.6" stroke="#231815" stroke-width="1" />
<line x1="713.5" y1="461" x2="713.5" y2="560.6" stroke="#231815" stroke-width="1" />
<line x1="692.7" y1="558.5" x2="774.2" y2="558.5" stroke="#231815" stroke-width="1" />
<polygon points="693.5,558.2 699.5,556.7 699.5,559.7" fill="#231815"/>
<polygon points="713.7,558.2 719.7,556.7 719.7,559.7" fill="#231815"/>
<text x="721" y="554.2" font-size="12" textLength="48.5" lengthAdjust="spacingAndGlyphs" >MAX.9.8</text>
<text x="720.5" y="568.7" font-size="12" textLength="52" lengthAdjust="spacingAndGlyphs" >(MIN.4.8)</text>
<polyline points="693.5,560.6 703,574.4 709.7,574.4" fill="none" stroke="#231815" stroke-width="0.9" />
<text x="705.3" y="571.5" font-size="12" >1</text>
<line x1="564.4" y1="370.5" x2="594.4" y2="370.5" stroke="#231815" stroke-width="1" />
<polygon points="564.4,370.3 570.4,368.8 570.4,371.8" fill="#231815"/>
<polygon points="594.4,370.3 588.4,371.8 588.4,368.8" fill="#231815"/>
<polygon points="594.4,370.3 600.4,368.8 600.4,371.8" fill="#231815"/>
<line x1="594.4" y1="370.5" x2="600" y2="370.5" stroke="#231815" stroke-width="1" />
<line x1="594.4" y1="370.5" x2="731.3" y2="370.5" stroke="#231815" stroke-width="1" />
<polygon points="594.4,370.3 600.4,368.8 600.4,371.8" fill="#231815"/>
<polygon points="731.3,370.3 725.3,371.8 725.3,368.8" fill="#231815"/>
<text x="579.5" y="367.4" font-size="12.5" text-anchor="middle" >15</text>
<text x="663.5" y="367.4" font-size="12.5" text-anchor="middle" >C</text>
<polyline points="358,368.8 467.8,368.8 493.6,447.5" fill="none" stroke="#231815" stroke-width="0.8" />
<polygon points="493.6,447.5 490.31,442.27 493.16,441.33" fill="#231815"/>
<text x="462.3" y="267.4" font-size="12" textLength="103" lengthAdjust="spacingAndGlyphs" >6-M5<tspan font-size="15.6" dy="0.8">×</tspan><tspan dy="-0.8">0.8 Depth 5</tspan></text>
<text x="462.3" y="283" font-size="12" textLength="79.6" lengthAdjust="spacingAndGlyphs" >(With heli-sert)</text>
<polyline points="566.8,271 453.9,271 495,405.5" fill="none" stroke="#231815" stroke-width="0.8" />
<polygon points="495,405.5 491.81,400.2 494.68,399.32" fill="#231815"/>
<text x="567.7" y="321" font-size="12" textLength="109" lengthAdjust="spacingAndGlyphs" >Stopper bolt M4<tspan font-size="15.6" dy="0.8">×</tspan><tspan dy="-0.8">0.7</tspan></text>
<text x="567.7" y="338.4" font-size="12" textLength="179" lengthAdjust="spacingAndGlyphs" >(Extended side stroke adjustment)</text>
<polyline points="567.7,326.5 757.4,326.5 706.6,447.9" fill="none" stroke="#231815" stroke-width="0.8" />
<polygon points="706.6,447.9 707.53,441.79 710.3,442.94" fill="#231815"/>
<text x="803" y="286.6" font-size="12" textLength="41" lengthAdjust="spacingAndGlyphs" >N-ϕ4.2</text>
<text x="801.8" y="303.5" font-size="12" textLength="160" lengthAdjust="spacingAndGlyphs" >ϕ7.5 Counterbore, Depth 4.2</text>
<polyline points="965,291.5 797,291.5 734.2,445.5" fill="none" stroke="#231815" stroke-width="0.8" />
<polygon points="734.2,445.5 735.08,439.38 737.85,440.51" fill="#231815"/>
<text x="552" y="389.1" font-size="12" transform="rotate(-90 552 389.1)" textLength="20.7" lengthAdjust="spacingAndGlyphs" >4F8</text>
<g transform="translate(552 367.3) rotate(-90)">
<path d="M0.4,-10.4 L7.6,-10.4 M4,-14 L4,-6.8" stroke="#231815" stroke-width="1.0" fill="none"/>
<path d="M0.4,-3.4 L7.6,-3.4 M4,-7 L4,0.2" stroke="#231815" stroke-width="1.0" fill="none"/>
<text x="7.8" y="-7.6" font-size="8.3" textLength="20.7" lengthAdjust="spacingAndGlyphs">0.028</text>
<text x="7.8" y="0" font-size="8.3" textLength="20.7" lengthAdjust="spacingAndGlyphs">0.010</text>
</g>
<text x="552" y="333.9" font-size="12" transform="rotate(-90 552 333.9)" textLength="42" lengthAdjust="spacingAndGlyphs" >Depth 4</text>
<path d="M885,394.7 L956.5,394.7 L956.5,514.9 L885,514.9 Q882,514.9 882,511.9 L882,397.7 Q882,394.7 885,394.7 Z" fill="#edefee" stroke="#555" stroke-width="1.3" />
<line x1="916.5" y1="396" x2="916.5" y2="514" stroke="#444" stroke-width="1" />
<path d="M901.2,398.2 L915.3,398.2 L915.3,443 L920.5,446.5 L920.5,463 L915.3,466 L915.3,511.5 L901.2,511.5 Z" fill="#edefee" stroke="#444" stroke-width="1" />
<line x1="903.5" y1="400" x2="903.5" y2="510" stroke="#777" stroke-width="1" />
<rect x="908.5" y="408.2" width="8.5" height="14.1" fill="#edefee" stroke="#444" stroke-width="1" />
<rect x="908.5" y="487.8" width="8.5" height="13.6" fill="#edefee" stroke="#444" stroke-width="1" />
<circle cx="912" cy="454.5" r="5.6" fill="#edefee" stroke="#333" stroke-width="1.3" />
<circle cx="912" cy="454.5" r="2.6" fill="none" stroke="#333" stroke-width="1.2" />
<line x1="907" y1="454.5" x2="917" y2="454.5" stroke="#231815" stroke-width="1" />
<line x1="912.5" y1="447" x2="912.5" y2="466" stroke="#231815" stroke-width="1" />
<circle cx="937.2" cy="431.4" r="16.3" fill="none" stroke="#2a2a2a" stroke-width="1.9" />
<path d="M949.38,424.92 A13.8,13.8 0 1 0 949.38,437.88" fill="none" stroke="#333" stroke-width="1.2" />
<circle cx="948.88" cy="426.68" r="2.3" fill="#edefee" stroke="#333" stroke-width="1" />
<circle cx="948.88" cy="426.68" r="1" fill="none" stroke="#666" stroke-width="0.6" />
<circle cx="948.88" cy="436.12" r="2.3" fill="#edefee" stroke="#333" stroke-width="1" />
<circle cx="948.88" cy="436.12" r="1" fill="none" stroke="#666" stroke-width="0.6" />
<line x1="919" y1="431.5" x2="964" y2="431.5" stroke="#231815" stroke-width="1" />
<circle cx="937.2" cy="478.2" r="16.3" fill="none" stroke="#2a2a2a" stroke-width="1.9" />
<path d="M949.38,471.72 A13.8,13.8 0 1 0 949.38,484.68" fill="none" stroke="#333" stroke-width="1.2" />
<circle cx="948.88" cy="473.48" r="2.3" fill="#edefee" stroke="#333" stroke-width="1" />
<circle cx="948.88" cy="473.48" r="1" fill="none" stroke="#666" stroke-width="0.6" />
<circle cx="948.88" cy="482.92" r="2.3" fill="#edefee" stroke="#333" stroke-width="1" />
<circle cx="948.88" cy="482.92" r="1" fill="none" stroke="#666" stroke-width="0.6" />
<line x1="919" y1="478.5" x2="964" y2="478.5" stroke="#231815" stroke-width="1" />
<path d="M925.5,396 L925.5,402 Q925.5,411 930.5,411 Q935,411 935,404 M935,404 L940,404 Q940,411 944.5,411 Q949.5,411 949.5,402 L949.5,396" fill="none" stroke="#444" stroke-width="0.9" />
<line x1="931.5" y1="398" x2="931.5" y2="408" stroke="#231815" stroke-width="1" />
<line x1="943.5" y1="398" x2="943.5" y2="408" stroke="#231815" stroke-width="1" />
<line x1="925.5" y1="407.5" x2="949.5" y2="407.5" stroke="#231815" stroke-width="1" />
<rect x="918" y="514.9" width="38" height="7.9" fill="#edefee" stroke="#555" stroke-width="1" />
<rect x="919.5" y="516" width="8.5" height="6" fill="none" stroke="#444" stroke-width="1" />
<line x1="928.5" y1="515" x2="928.5" y2="522.8" stroke="#231815" stroke-width="1" />
<line x1="944.5" y1="515" x2="944.5" y2="522.8" stroke="#231815" stroke-width="1" />
<line x1="873.5" y1="454.5" x2="965.6" y2="454.5" stroke="#231815" stroke-width="1" />
<line x1="937.5" y1="391.9" x2="937.5" y2="526.8" stroke="#666" stroke-width="1" />
<line x1="897" y1="415.5" x2="922" y2="415.5" stroke="#231815" stroke-width="1" />
<line x1="897" y1="494.5" x2="922" y2="494.5" stroke="#231815" stroke-width="1" />
<line x1="912.5" y1="370" x2="912.5" y2="453" stroke="#231815" stroke-width="1" />
<line x1="921.5" y1="450" x2="921.5" y2="443" stroke="#231815" stroke-width="1" />
<line x1="921.5" y1="368" x2="921.5" y2="441" stroke="#231815" stroke-width="1" />
<line x1="956.5" y1="343.5" x2="956.5" y2="392" stroke="#231815" stroke-width="1" />
<line x1="912.6" y1="352.5" x2="956.1" y2="352.5" stroke="#231815" stroke-width="1" />
<polygon points="912.6,352 918.6,350.5 918.6,353.5" fill="#231815"/>
<polygon points="956.1,352 950.1,353.5 950.1,350.5" fill="#231815"/>
<line x1="921.5" y1="371.5" x2="956.1" y2="371.5" stroke="#231815" stroke-width="1" />
<polygon points="921.5,371.3 927.5,369.8 927.5,372.8" fill="#231815"/>
<polygon points="956.1,371.3 950.1,372.8 950.1,369.8" fill="#231815"/>
<line x1="956.1" y1="371.5" x2="1068" y2="371.5" stroke="#231815" stroke-width="1" />
<text x="933.6" y="349.5" font-size="12" text-anchor="middle" textLength="25" lengthAdjust="spacingAndGlyphs" >22.5</text>
<text x="939.7" y="368.9" font-size="12" text-anchor="middle" >18</text>
<text x="961" y="348.3" font-size="12" textLength="80" lengthAdjust="spacingAndGlyphs" >(Reference for</text>
<text x="963.4" y="364" font-size="12" textLength="104" lengthAdjust="spacingAndGlyphs" >ϕ7.5 Counterbore)</text>
<rect x="456.2" y="592" width="16.1" height="70.7" fill="#edefee" stroke="#555" stroke-width="1.2" />
<line x1="456.2" y1="595.5" x2="472.3" y2="595.5" stroke="#777" stroke-width="1" />
<rect x="472.3" y="591.4" width="219.7" height="29.6" fill="#edefee" stroke="#555" stroke-width="1.2" />
<line x1="472.3" y1="595.5" x2="692" y2="595.5" stroke="#666" stroke-width="1" />
<line x1="645" y1="621.5" x2="692" y2="621.5" stroke="#444" stroke-width="1" />
<rect x="564.3" y="621" width="168" height="45.4" fill="#edefee" stroke="#555" stroke-width="1.2" />
<rect x="567.2" y="621" width="46.5" height="3.4" fill="#edefee" stroke="#333" stroke-width="1" />
<line x1="613.7" y1="626.5" x2="790" y2="626.5" stroke="#444" stroke-width="1" />
<path d="M477,641 L479,641 L481,638.5 L564.3,638.5 L564.3,654.3 L481,654.3 L479,652 L477,652 Z" fill="#edefee" stroke="none" stroke-width="0" />
<path d="M477,641 L479,641 L481,638.5 L564.3,638.5 M477,652 L479,652 L481,654.3 L564.3,654.3" fill="none" stroke="#444" stroke-width="1.1" />
<rect x="472.3" y="634.5" width="4.7" height="25.5" fill="#edefee" stroke="#555" stroke-width="0.9" />
<line x1="473" y1="657" x2="473" y2="662" stroke="#222" stroke-width="2" />
<rect x="552.3" y="654.6" width="6" height="7.6" fill="#edefee" stroke="#444" stroke-width="1" />
<rect x="558.3" y="654.6" width="6" height="7.6" fill="#edefee" stroke="#444" stroke-width="1" />
<line x1="552.3" y1="658.5" x2="564.3" y2="658.5" stroke="#444" stroke-width="1" />
<rect x="732.3" y="628.2" width="58" height="37.4" fill="#edefee" stroke="#555" stroke-width="1.2" />
<line x1="564.3" y1="665.5" x2="790.3" y2="665.5" stroke="#444" stroke-width="1" />
<rect x="693.5" y="614.7" width="4.9" height="15.5" fill="#edefee" stroke="#444" stroke-width="1" />
<line x1="693.5" y1="619.5" x2="698.4" y2="619.5" stroke="#444" stroke-width="1" />
<line x1="693.5" y1="626.5" x2="698.4" y2="626.5" stroke="#444" stroke-width="1" />
<rect x="698.4" y="618" width="18.4" height="5.4" fill="none" stroke="#333" stroke-width="1" />
<line x1="700" y1="621" x2="715" y2="621" stroke="#231815" stroke-width="2" stroke-dasharray="1.6,1.2"/>
<rect x="713.9" y="617.2" width="57.1" height="8.5" fill="#edefee" stroke="#555" stroke-width="1" />
<rect x="772" y="614.7" width="4.8" height="15.5" fill="#edefee" stroke="#444" stroke-width="1" />
<line x1="772" y1="619.5" x2="776.8" y2="619.5" stroke="#444" stroke-width="1" />
<line x1="772" y1="626.5" x2="776.8" y2="626.5" stroke="#444" stroke-width="1" />
<line x1="777" y1="621" x2="790" y2="621" stroke="#231815" stroke-width="2" stroke-dasharray="1.6,1.2"/>
<line x1="765" y1="623.5" x2="796" y2="623.5" stroke="#231815" stroke-width="1" />
<polyline points="747.7,592.4 771,592.4 771,614.7" fill="none" stroke="#231815" stroke-width="0.9" stroke-dasharray="6,2,1.5,2"/>
<line x1="791" y1="597" x2="791" y2="627" stroke="#231815" stroke-width="2" />
<line x1="778.7" y1="600.5" x2="920" y2="600.5" stroke="#231815" stroke-width="1" />
<polygon points="791.3,600.3 785.3,601.8 785.3,598.8" fill="#231815"/>
<polygon points="791.3,600.3 797.3,598.8 797.3,601.8" fill="#231815"/>
<text x="804.4" y="595.3" font-size="12" textLength="114" lengthAdjust="spacingAndGlyphs" >0.8 (When retracted)</text>
<circle cx="770" cy="647" r="3.9" fill="none" stroke="#231815" stroke-width="1.6" />
<line x1="770.5" y1="634" x2="770.5" y2="706" stroke="#231815" stroke-width="1" />
<line x1="760" y1="647.5" x2="776" y2="647.5" stroke="#231815" stroke-width="1" />
<circle cx="744.8" cy="647" r="2.5" fill="none" stroke="#444" stroke-width="0.9" />
<circle cx="751.3" cy="632.8" r="5.8" fill="#edefee" stroke="#333" stroke-width="1.2" />
<circle cx="751.3" cy="632.8" r="3" fill="none" stroke="#555" stroke-width="0.8" />
<line x1="748.3" y1="632.5" x2="754.3" y2="632.5" stroke="#555" stroke-width="1" />
<line x1="751.5" y1="629.8" x2="751.5" y2="635.8" stroke="#555" stroke-width="1" />
<circle cx="737.6" cy="659.5" r="5.8" fill="#edefee" stroke="#333" stroke-width="1.2" />
<circle cx="737.6" cy="659.5" r="3" fill="none" stroke="#555" stroke-width="0.8" />
<line x1="734.6" y1="659.5" x2="740.6" y2="659.5" stroke="#555" stroke-width="1" />
<line x1="737.5" y1="656.5" x2="737.5" y2="662.5" stroke="#555" stroke-width="1" />
<path d="M757.5,628.5 L757.5,643 Q754,648 755.5,654 L757.5,665.5" fill="none" stroke="#444" stroke-width="0.9" />
<circle cx="607.3" cy="647.3" r="4.2" fill="none" stroke="#231815" stroke-width="1.6" />
<line x1="607.5" y1="633.4" x2="607.5" y2="692.7" stroke="#231815" stroke-width="1" />
<line x1="435" y1="647.5" x2="585.8" y2="647.5" stroke="#231815" stroke-width="1" />
<line x1="585.8" y1="647.5" x2="790" y2="647.5" stroke="#666" stroke-width="1" />
<line x1="564.3" y1="654.5" x2="585.8" y2="654.5" stroke="#231815" stroke-width="1" />
<line x1="582.5" y1="635" x2="582.5" y2="647.3" stroke="#231815" stroke-width="1" />
<polygon points="582.4,647.3 580.9,641.3 583.9,641.3" fill="#231815"/>
<line x1="582.5" y1="654.3" x2="582.5" y2="675" stroke="#231815" stroke-width="1" />
<polygon points="582.4,654.3 583.9,660.3 580.9,660.3" fill="#231815"/>
<text x="580.3" y="673.2" font-size="12" text-anchor="middle" transform="rotate(-90 580.3 673.2)" >4</text>
<line x1="564.5" y1="669" x2="564.5" y2="692.7" stroke="#231815" stroke-width="1" />
<line x1="564.3" y1="690.5" x2="607.3" y2="690.5" stroke="#231815" stroke-width="1" />
<polygon points="564.3,690.7 570.3,689.2 570.3,692.2" fill="#231815"/>
<polygon points="607.3,690.7 601.3,692.2 601.3,689.2" fill="#231815"/>
<text x="585.5" y="687.6" font-size="12" text-anchor="middle" >22</text>
<line x1="761" y1="628.5" x2="816" y2="628.5" stroke="#231815" stroke-width="1" />
<line x1="790.3" y1="665.5" x2="832" y2="665.5" stroke="#231815" stroke-width="1" />
<line x1="790.3" y1="647.5" x2="832" y2="647.5" stroke="#231815" stroke-width="1" />
<line x1="813.5" y1="628.2" x2="813.5" y2="665.6" stroke="#231815" stroke-width="1" />
<polygon points="813.5,628.2 815,634.2 812,634.2" fill="#231815"/>
<polygon points="813.5,665.6 812,659.6 815,659.6" fill="#231815"/>
<line x1="830.5" y1="647" x2="830.5" y2="665.6" stroke="#231815" stroke-width="1" />
<polygon points="830,647 831.5,653 828.5,653" fill="#231815"/>
<polygon points="830,665.6 828.5,659.6 831.5,659.6" fill="#231815"/>
<text x="811.5" y="647" font-size="12" text-anchor="middle" transform="rotate(-90 811.5 647)" >19</text>
<text x="825.8" y="656.3" font-size="12" text-anchor="middle" transform="rotate(-90 825.8 656.3)" >10</text>
<line x1="732.5" y1="668" x2="732.5" y2="692" stroke="#231815" stroke-width="1" />
<line x1="757.5" y1="668" x2="757.5" y2="692" stroke="#231815" stroke-width="1" />
<line x1="745.5" y1="625.2" x2="745.5" y2="708.9" stroke="#231815" stroke-width="1" />
<line x1="790.5" y1="668" x2="790.5" y2="708" stroke="#231815" stroke-width="1" />
<line x1="732.3" y1="689.5" x2="757.4" y2="689.5" stroke="#231815" stroke-width="1" />
<polygon points="732.3,689.2 738.3,687.7 738.3,690.7" fill="#231815"/>
<polygon points="757.4,689.2 751.4,690.7 751.4,687.7" fill="#231815"/>
<line x1="744.8" y1="705.5" x2="770" y2="705.5" stroke="#231815" stroke-width="1" />
<polygon points="744.8,705.6 750.8,704.1 750.8,707.1" fill="#231815"/>
<polygon points="770,705.6 764,707.1 764,704.1" fill="#231815"/>
<line x1="770" y1="705.5" x2="790.3" y2="705.5" stroke="#231815" stroke-width="1" />
<polygon points="770,705.6 776,704.1 776,707.1" fill="#231815"/>
<polygon points="790.3,705.6 784.3,707.1 784.3,704.1" fill="#231815"/>
<text x="744.8" y="686.3" font-size="12" text-anchor="middle" >13</text>
<text x="757.4" y="701.8" font-size="12" text-anchor="middle" >13</text>
<text x="780.2" y="701.8" font-size="12" text-anchor="middle" >10</text>
<text x="636.5" y="686.9" font-size="11" textLength="88.5" lengthAdjust="spacingAndGlyphs" >2-M5<tspan font-size="14.3" dy="0.8">×</tspan><tspan dy="-0.8">0.8 Depth 4</tspan></text>
<text x="634.5" y="702.7" font-size="11" textLength="81" lengthAdjust="spacingAndGlyphs" >(Connection port)</text>
<polyline points="725.5,690.2 636.8,690.2 609.6,650.5" fill="none" stroke="#231815" stroke-width="0.8" />
<polygon points="609.6,650.5 614.23,654.6 611.75,656.3" fill="#231815"/>
<text x="799.2" y="683.8" font-size="12" textLength="234" lengthAdjust="spacingAndGlyphs" >Opening for manual override (For M3 size)</text>
<polyline points="1036.2,689.7 797,689.7 747.7,649" fill="none" stroke="#231815" stroke-width="0.8" />
<polygon points="747.7,649 753.28,651.66 751.37,653.98" fill="#231815"/>
<rect x="456.4" y="806" width="334" height="119.6" fill="#edefee" stroke="#5a5a5a" stroke-width="1.3" />
<line x1="472.5" y1="806" x2="472.5" y2="925.6" stroke="#444" stroke-width="1" />
<line x1="564.5" y1="806" x2="564.5" y2="925.6" stroke="#444" stroke-width="1" />
<line x1="472.4" y1="809.5" x2="564.7" y2="809.5" stroke="#666" stroke-width="1" />
<line x1="472.4" y1="922.5" x2="564.7" y2="922.5" stroke="#666" stroke-width="1" />
<line x1="474.5" y1="834.5" x2="564.7" y2="834.5" stroke="#444" stroke-width="1" />
<line x1="474.5" y1="850.5" x2="564.7" y2="850.5" stroke="#444" stroke-width="1" />
<line x1="474.5" y1="881.5" x2="564.7" y2="881.5" stroke="#444" stroke-width="1" />
<line x1="474.5" y1="897.5" x2="564.7" y2="897.5" stroke="#444" stroke-width="1" />
<line x1="424" y1="842.5" x2="573" y2="842.5" stroke="#231815" stroke-width="1" />
<line x1="424" y1="889.5" x2="573" y2="889.5" stroke="#231815" stroke-width="1" />
<line x1="564.7" y1="834" x2="790.4" y2="834" stroke="#3a3a3a" stroke-width="2" />
<line x1="564.7" y1="851" x2="790.4" y2="851" stroke="#3a3a3a" stroke-width="2" />
<line x1="564.7" y1="881" x2="790.4" y2="881" stroke="#3a3a3a" stroke-width="2" />
<line x1="564.7" y1="898" x2="790.4" y2="898" stroke="#3a3a3a" stroke-width="2" />
<line x1="474.5" y1="808" x2="474.5" y2="862" stroke="#555" stroke-width="1" />
<line x1="474.5" y1="872" x2="474.5" y2="917" stroke="#555" stroke-width="1" />
<rect x="472.4" y="859.6" width="2.6" height="11.5" fill="#222" stroke="#222" stroke-width="0.8" />
<rect x="474.5" y="837.4" width="6.2" height="10.2" fill="#edefee" stroke="#444" stroke-width="0.9" />
<line x1="474.5" y1="837.4" x2="480.7" y2="847.6" stroke="#444" stroke-width="0.6" />
<line x1="480.7" y1="837.4" x2="474.5" y2="847.6" stroke="#444" stroke-width="0.6" />
<rect x="474.5" y="884.4" width="6.2" height="10.2" fill="#edefee" stroke="#444" stroke-width="0.9" />
<line x1="474.5" y1="884.4" x2="480.7" y2="894.6" stroke="#444" stroke-width="0.6" />
<line x1="480.7" y1="884.4" x2="474.5" y2="894.6" stroke="#444" stroke-width="0.6" />
<circle cx="495.8" cy="826.4" r="4.2" fill="none" stroke="#231815" stroke-width="1.6" />
<line x1="488.8" y1="826.5" x2="502.8" y2="826.5" stroke="#231815" stroke-width="1" />
<line x1="495.5" y1="819.4" x2="495.5" y2="833.4" stroke="#231815" stroke-width="1" />
<circle cx="535.2" cy="826.4" r="4.2" fill="none" stroke="#231815" stroke-width="1.6" />
<line x1="528.2" y1="826.5" x2="542.2" y2="826.5" stroke="#231815" stroke-width="1" />
<line x1="535.5" y1="819.4" x2="535.5" y2="833.4" stroke="#231815" stroke-width="1" />
<circle cx="495.8" cy="905.2" r="4.2" fill="none" stroke="#231815" stroke-width="1.6" />
<line x1="488.8" y1="905.5" x2="502.8" y2="905.5" stroke="#231815" stroke-width="1" />
<line x1="495.5" y1="898.2" x2="495.5" y2="912.2" stroke="#231815" stroke-width="1" />
<circle cx="535.2" cy="905.2" r="4.2" fill="none" stroke="#231815" stroke-width="1.6" />
<line x1="528.2" y1="905.5" x2="542.2" y2="905.5" stroke="#231815" stroke-width="1" />
<line x1="535.5" y1="898.2" x2="535.5" y2="912.2" stroke="#231815" stroke-width="1" />
<circle cx="515.7" cy="866.3" r="10" fill="none" stroke="#333" stroke-width="1" />
<line x1="515.5" y1="853" x2="515.5" y2="879.5" stroke="#231815" stroke-width="1" />
<rect x="552.6" y="859" width="5.8" height="14" fill="#edefee" stroke="#333" stroke-width="1.1" />
<rect x="558.4" y="859" width="5.7" height="14" fill="#edefee" stroke="#333" stroke-width="1.1" />
<line x1="552.6" y1="866.5" x2="564.1" y2="866.5" stroke="#231815" stroke-width="1" />
<circle cx="593.9" cy="866.3" r="4.4" fill="none" stroke="#231815" stroke-width="1.6" />
<line x1="594.5" y1="754" x2="594.5" y2="875" stroke="#231815" stroke-width="1" />
<circle cx="613.5" cy="866.3" r="3.7" fill="none" stroke="#555" stroke-width="1" />
<line x1="613.5" y1="776.7" x2="613.5" y2="874" stroke="#231815" stroke-width="1" />
<circle cx="731.3" cy="866.3" r="4.5" fill="none" stroke="#231815" stroke-width="1.7" />
<line x1="731.5" y1="754" x2="731.5" y2="875" stroke="#231815" stroke-width="1" />
<ellipse cx="750.8" cy="866.3" rx="5.5" ry="3.9" fill="none" stroke="#666" stroke-width="1.1"/>
<line x1="750.5" y1="754" x2="750.5" y2="875" stroke="#231815" stroke-width="1" />
<line x1="444.4" y1="866.5" x2="793.4" y2="866.5" stroke="#231815" stroke-width="1" />
<rect x="732.2" y="798.4" width="10.6" height="7.1" fill="#edefee" stroke="#444" stroke-width="1" />
<rect x="734" y="800.5" width="8" height="4.5" fill="none" stroke="#555" stroke-width="0.8" />
<rect x="744.6" y="798.4" width="12.4" height="7.1" fill="#edefee" stroke="#444" stroke-width="1" />
<line x1="744.5" y1="793" x2="744.5" y2="811" stroke="#231815" stroke-width="1" />
<line x1="745.5" y1="774" x2="745.5" y2="862.3" stroke="#231815" stroke-width="1" />
<line x1="756.5" y1="774" x2="756.5" y2="862.3" stroke="#231815" stroke-width="1" />
<line x1="756.1" y1="862.5" x2="815.6" y2="862.5" stroke="#231815" stroke-width="1" />
<line x1="756.1" y1="870.5" x2="815.6" y2="870.5" stroke="#231815" stroke-width="1" />
<line x1="456.5" y1="734.5" x2="456.5" y2="803.7" stroke="#231815" stroke-width="1" />
<line x1="564.5" y1="734.5" x2="564.5" y2="803.7" stroke="#231815" stroke-width="1" />
<line x1="790.5" y1="734.5" x2="790.5" y2="803.7" stroke="#231815" stroke-width="1" />
<line x1="456.4" y1="737.5" x2="564.7" y2="737.5" stroke="#231815" stroke-width="1" />
<polygon points="456.4,737.2 462.4,735.7 462.4,738.7" fill="#231815"/>
<polygon points="564.7,737.2 558.7,738.7 558.7,735.7" fill="#231815"/>
<line x1="564.7" y1="737.5" x2="790.4" y2="737.5" stroke="#231815" stroke-width="1" />
<polygon points="564.7,737.2 570.7,735.7 570.7,738.7" fill="#231815"/>
<polygon points="790.4,737.2 784.4,738.7 784.4,735.7" fill="#231815"/>
<text x="510.9" y="734.9" font-size="12" text-anchor="middle" >E</text>
<text x="679.8" y="734.9" font-size="12" text-anchor="middle" >L</text>
<line x1="564.7" y1="757.5" x2="594.6" y2="757.5" stroke="#231815" stroke-width="1" />
<polygon points="564.7,757 570.7,755.5 570.7,758.5" fill="#231815"/>
<polygon points="594.6,757 588.6,758.5 588.6,755.5" fill="#231815"/>
<line x1="594.6" y1="757.5" x2="731.3" y2="757.5" stroke="#231815" stroke-width="1" />
<polygon points="594.6,757 600.6,755.5 600.6,758.5" fill="#231815"/>
<polygon points="731.3,757 725.3,758.5 725.3,755.5" fill="#231815"/>
<line x1="731.3" y1="757.5" x2="750.8" y2="757.5" stroke="#231815" stroke-width="1" />
<polygon points="731.3,757 737.3,755.5 737.3,758.5" fill="#231815"/>
<polygon points="750.8,757 744.8,758.5 744.8,755.5" fill="#231815"/>
<text x="580" y="754.4" font-size="12" text-anchor="middle" >15</text>
<text x="663.9" y="754.4" font-size="12" text-anchor="middle" >C</text>
<text x="742" y="754.4" font-size="12" text-anchor="middle" >10</text>
<line x1="472.5" y1="774.4" x2="472.5" y2="803.7" stroke="#231815" stroke-width="1" />
<line x1="474.5" y1="774.4" x2="474.5" y2="803.7" stroke="#231815" stroke-width="1" />
<line x1="552.5" y1="774.4" x2="552.5" y2="859" stroke="#231815" stroke-width="1" />
<line x1="456.4" y1="776.5" x2="472.7" y2="776.5" stroke="#231815" stroke-width="1" />
<polygon points="456.4,776.7 462.4,775.2 462.4,778.2" fill="#231815"/>
<polygon points="472.7,776.7 466.7,778.2 466.7,775.2" fill="#231815"/>
<line x1="474.3" y1="776.5" x2="552.6" y2="776.5" stroke="#231815" stroke-width="1" />
<polygon points="474.3,776.7 480.3,775.2 480.3,778.2" fill="#231815"/>
<polygon points="552.6,776.7 546.6,778.2 546.6,775.2" fill="#231815"/>
<line x1="552.6" y1="776.5" x2="575.7" y2="776.5" stroke="#231815" stroke-width="1" />
<polygon points="564.7,776.7 570.7,775.2 570.7,778.2" fill="#231815"/>
<text x="464.8" y="772.7" font-size="12" text-anchor="middle" >8</text>
<text x="516" y="771.8" font-size="12" text-anchor="middle" textLength="35" lengthAdjust="spacingAndGlyphs" >Stroke</text>
<text x="558.8" y="773.5" font-size="12" text-anchor="middle" >6</text>
<polyline points="492.3,761.5 481.6,761.5 473.6,774.4" fill="none" stroke="#231815" stroke-width="0.8" />
<polygon points="473.6,774.4 475.49,768.51 478.04,770.09" fill="#231815"/>
<text x="489.6" y="758.5" font-size="12" text-anchor="middle" >1</text>
<line x1="594.6" y1="776.5" x2="613.5" y2="776.5" stroke="#231815" stroke-width="1" />
<polygon points="594.6,776.7 600.6,775.2 600.6,778.2" fill="#231815"/>
<polygon points="613.5,776.7 607.5,778.2 607.5,775.2" fill="#231815"/>
<text x="604" y="772.7" font-size="12" text-anchor="middle" >10</text>
<line x1="733" y1="776.5" x2="745.5" y2="776.5" stroke="#231815" stroke-width="1" />
<polygon points="745.5,776.7 739.5,778.2 739.5,775.2" fill="#231815"/>
<line x1="756.1" y1="776.5" x2="771" y2="776.5" stroke="#231815" stroke-width="1" />
<polygon points="756.1,776.7 762.1,775.2 762.1,778.2" fill="#231815"/>
<text x="769.4" y="773.5" font-size="12" text-anchor="middle" >6</text>
<line x1="427.5" y1="842.4" x2="427.5" y2="889.8" stroke="#231815" stroke-width="1" />
<polygon points="427.5,842.4 429,848.4 426,848.4" fill="#231815"/>
<polygon points="427.5,889.8 426,883.8 429,883.8" fill="#231815"/>
<text x="425.5" y="866" font-size="12" text-anchor="middle" transform="rotate(-90 425.5 866)" >24</text>
<line x1="813.5" y1="755.8" x2="813.5" y2="862.3" stroke="#231815" stroke-width="1" />
<polygon points="813.4,862.3 811.9,856.3 814.9,856.3" fill="#231815"/>
<line x1="813.5" y1="870.3" x2="813.5" y2="881.8" stroke="#231815" stroke-width="1" />
<polygon points="813.4,870.3 814.9,876.3 811.9,876.3" fill="#231815"/>
<text x="809" y="851.7" font-size="12" transform="rotate(-90 809 851.7)" textLength="21.5" lengthAdjust="spacingAndGlyphs" >4F8</text>
<g transform="translate(809 828.8) rotate(-90)">
<path d="M0.4,-10.4 L7.6,-10.4 M4,-14 L4,-6.8" stroke="#231815" stroke-width="1.0" fill="none"/>
<path d="M0.4,-3.4 L7.6,-3.4 M4,-7 L4,0.2" stroke="#231815" stroke-width="1.0" fill="none"/>
<text x="7.8" y="-7.6" font-size="8.3" textLength="20.5" lengthAdjust="spacingAndGlyphs">0.028</text>
<text x="7.8" y="0" font-size="8.3" textLength="20.5" lengthAdjust="spacingAndGlyphs">0.010</text>
</g>
<text x="809" y="797.6" font-size="12" transform="rotate(-90 809 797.6)" textLength="41.3" lengthAdjust="spacingAndGlyphs" >Depth 4</text>
<text x="407.5" y="948.3" font-size="12" textLength="114" lengthAdjust="spacingAndGlyphs" >Stopper bolt M4<tspan font-size="15.6" dy="0.8">×</tspan><tspan dy="-0.8">0.7</tspan></text>
<text x="407.5" y="967" font-size="12" textLength="128" lengthAdjust="spacingAndGlyphs" >(Adjustment prohibited)</text>
<polyline points="403.5,955.4 538.4,955.4 556.1,871.5" fill="none" stroke="#231815" stroke-width="0.8" />
<polygon points="556.1,871.5 556.33,877.68 553.39,877.06" fill="#231815"/>
<text x="646.5" y="950" font-size="12" >ϕ</text>
<text x="655.9" y="950" font-size="12" textLength="20.4" lengthAdjust="spacingAndGlyphs" >4F8</text>
<g transform="translate(679.5 949.5)">
<path d="M0.4,-10.4 L7.6,-10.4 M4,-14 L4,-6.8" stroke="#231815" stroke-width="1.0" fill="none"/>
<path d="M0.4,-3.4 L7.6,-3.4 M4,-7 L4,0.2" stroke="#231815" stroke-width="1.0" fill="none"/>
<text x="7.8" y="-7.6" font-size="8.3" textLength="20.4" lengthAdjust="spacingAndGlyphs">0.028</text>
<text x="7.8" y="0" font-size="8.3" textLength="20.4" lengthAdjust="spacingAndGlyphs">0.010</text>
</g>
<text x="710" y="950" font-size="12" textLength="42.6" lengthAdjust="spacingAndGlyphs" >Depth 4</text>
<polyline points="754.4,955.4 641.7,955.4 615,871.1" fill="none" stroke="#231815" stroke-width="0.8" />
<polygon points="615,871.1 618.24,876.37 615.38,877.27" fill="#231815"/>
<text x="794.7" y="949.6" font-size="12" textLength="107.5" lengthAdjust="spacingAndGlyphs" >N-M5<tspan font-size="15.6" dy="0.8">×</tspan><tspan dy="-0.8">0.8 Depth 5</tspan></text>
<text x="794.7" y="966.3" font-size="12" textLength="79" lengthAdjust="spacingAndGlyphs" >(With heli-sert)</text>
<polyline points="902.5,955 790.2,955 734.8,871.1" fill="none" stroke="#231815" stroke-width="0.8" />
<polygon points="734.8,871.1 739.36,875.28 736.85,876.93" fill="#231815"/>
<path d="M551.3,1019.7 L565.5,1019.7 L565.5,1139.4 L527.4,1139.4 Z" fill="#edefee" stroke="none" stroke-width="0" />
<line x1="550" y1="1019.5" x2="565.5" y2="1019.5" stroke="#231815" stroke-width="1" />
<line x1="549.5" y1="1022.5" x2="565.5" y2="1022.5" stroke="#231815" stroke-width="1" />
<line x1="528" y1="1136.5" x2="565.5" y2="1136.5" stroke="#231815" stroke-width="1" />
<line x1="527.5" y1="1139.5" x2="565.5" y2="1139.5" stroke="#231815" stroke-width="1" />
<line x1="544.8" y1="1048.5" x2="565.5" y2="1048.5" stroke="#231815" stroke-width="1" />
<line x1="542.3" y1="1064.5" x2="565.5" y2="1064.5" stroke="#231815" stroke-width="1" />
<line x1="536.7" y1="1095.5" x2="565.5" y2="1095.5" stroke="#231815" stroke-width="1" />
<line x1="534.1" y1="1111.5" x2="565.5" y2="1111.5" stroke="#231815" stroke-width="1" />
<line x1="551.3" y1="1010.5" x2="527.5" y2="1147.7" stroke="#333" stroke-width="0.9" />
<rect x="565.5" y="1019.5" width="244.6" height="119.7" fill="#edefee" stroke="#333" stroke-width="1.2" />
<line x1="565.5" y1="1048" x2="810.1" y2="1048" stroke="#2e2e2e" stroke-width="2" />
<line x1="565.5" y1="1065" x2="810.1" y2="1065" stroke="#2e2e2e" stroke-width="2" />
<line x1="565.5" y1="1095" x2="810.1" y2="1095" stroke="#2e2e2e" stroke-width="2" />
<line x1="565.5" y1="1112" x2="810.1" y2="1112" stroke="#2e2e2e" stroke-width="2" />
<line x1="532" y1="1056.5" x2="583.7" y2="1056.5" stroke="#231815" stroke-width="1" />
<line x1="529" y1="1103.5" x2="580.7" y2="1103.5" stroke="#231815" stroke-width="1" />
<rect x="553.4" y="1072.3" width="5.1" height="14.1" fill="#edefee" stroke="#333" stroke-width="1.1" rx="1"/>
<rect x="560.2" y="1072.3" width="4.7" height="14.1" fill="#edefee" stroke="#333" stroke-width="1.1" rx="1"/>
<line x1="553.4" y1="1079.5" x2="565" y2="1079.5" stroke="#231815" stroke-width="1" />
<line x1="540.5" y1="1079.5" x2="821" y2="1079.5" stroke="#231815" stroke-width="1" />
<circle cx="593.9" cy="1079.4" r="4.6" fill="none" stroke="#231815" stroke-width="1.7" />
<line x1="593.5" y1="993" x2="593.5" y2="1088.4" stroke="#231815" stroke-width="1" />
<circle cx="672.6" cy="1079.4" r="4.6" fill="none" stroke="#231815" stroke-width="1.7" />
<line x1="672.5" y1="993" x2="672.5" y2="1088.4" stroke="#231815" stroke-width="1" />
<circle cx="751.3" cy="1079.4" r="4.6" fill="none" stroke="#231815" stroke-width="1.7" />
<line x1="751.5" y1="993" x2="751.5" y2="1088.4" stroke="#231815" stroke-width="1" />
<circle cx="614" cy="1079.4" r="3.5" fill="none" stroke="#444" stroke-width="1" />
<line x1="614.5" y1="1070" x2="614.5" y2="1088" stroke="#231815" stroke-width="1" />
<ellipse cx="770.6" cy="1079.4" rx="5.5" ry="4" fill="none" stroke="#444" stroke-width="1.1"/>
<line x1="770.5" y1="1070" x2="770.5" y2="1088" stroke="#231815" stroke-width="1" />
<rect x="751.3" y="1012.3" width="26.3" height="7.2" fill="#edefee" stroke="#444" stroke-width="1" />
<rect x="753" y="1013.5" width="7" height="5" fill="none" stroke="#555" stroke-width="0.8" />
<line x1="765.5" y1="1007" x2="765.5" y2="1024" stroke="#231815" stroke-width="1" />
<line x1="565.5" y1="993" x2="565.5" y2="1015" stroke="#231815" stroke-width="1" />
<line x1="565.5" y1="996.5" x2="593.9" y2="996.5" stroke="#231815" stroke-width="1" />
<polygon points="565.5,996.3 571.5,994.8 571.5,997.8" fill="#231815"/>
<polygon points="593.9,996.3 587.9,997.8 587.9,994.8" fill="#231815"/>
<line x1="593.9" y1="996.5" x2="672.6" y2="996.5" stroke="#231815" stroke-width="1" />
<polygon points="593.9,996.3 599.9,994.8 599.9,997.8" fill="#231815"/>
<polygon points="672.6,996.3 666.6,997.8 666.6,994.8" fill="#231815"/>
<line x1="672.6" y1="996.5" x2="751.3" y2="996.5" stroke="#231815" stroke-width="1" />
<polygon points="672.6,996.3 678.6,994.8 678.6,997.8" fill="#231815"/>
<polygon points="751.3,996.3 745.3,997.8 745.3,994.8" fill="#231815"/>
<text x="579.7" y="993.4" font-size="12" text-anchor="middle" >15</text>
<text x="633.4" y="993.4" font-size="12" text-anchor="middle" >F</text>
<text x="711.8" y="993.4" font-size="12" text-anchor="middle" >F</text>
<circle cx="565" cy="1172.3" r="5.8" fill="#231815" stroke="none" stroke-width="0" />
<text x="577.6" y="1176.6" font-size="14" font-weight="bold" textLength="205.5" lengthAdjust="spacing">For 50mm and longer strokes</text>
<rect x="88.8" y="1434.9" width="465.7" height="23.2" fill="#edefee" stroke="none" stroke-width="0" />
<rect x="88.8" y="1482" width="465.7" height="24.4" fill="#edefee" stroke="none" stroke-width="0" />
<rect x="88.8" y="1530.3" width="465.7" height="23.2" fill="#edefee" stroke="none" stroke-width="0" />
<rect x="88.8" y="1577.4" width="465.7" height="24.2" fill="#edefee" stroke="none" stroke-width="0" />
<line x1="183.5" y1="1434.9" x2="183.5" y2="1623.2" stroke="#231815" stroke-width="1" />
<line x1="236.5" y1="1434.9" x2="236.5" y2="1623.2" stroke="#231815" stroke-width="1" />
<line x1="290.5" y1="1434.9" x2="290.5" y2="1623.2" stroke="#231815" stroke-width="1" />
<line x1="343.5" y1="1434.9" x2="343.5" y2="1623.2" stroke="#231815" stroke-width="1" />
<line x1="396.5" y1="1434.9" x2="396.5" y2="1623.2" stroke="#231815" stroke-width="1" />
<line x1="449.5" y1="1434.9" x2="449.5" y2="1623.2" stroke="#231815" stroke-width="1" />
<line x1="502.5" y1="1434.9" x2="502.5" y2="1623.2" stroke="#231815" stroke-width="1" />
<line x1="88.8" y1="1482.5" x2="554.5" y2="1482.5" stroke="#231815" stroke-width="1" />
<line x1="88.8" y1="1506.5" x2="554.5" y2="1506.5" stroke="#231815" stroke-width="1" />
<line x1="88.8" y1="1530.5" x2="554.5" y2="1530.5" stroke="#231815" stroke-width="1" />
<line x1="88.8" y1="1553.5" x2="554.5" y2="1553.5" stroke="#231815" stroke-width="1" />
<line x1="88.8" y1="1577.5" x2="554.5" y2="1577.5" stroke="#231815" stroke-width="1" />
<line x1="88.8" y1="1601.5" x2="554.5" y2="1601.5" stroke="#231815" stroke-width="1" />
<line x1="88.8" y1="1435" x2="554.5" y2="1435" stroke="#231815" stroke-width="2" />
<line x1="88.8" y1="1458" x2="554.5" y2="1458" stroke="#231815" stroke-width="2" />
<line x1="88.8" y1="1623" x2="554.5" y2="1623" stroke="#231815" stroke-width="2" />
<line x1="90.5" y1="1435.5" x2="182.7" y2="1458" stroke="#231815" stroke-width="0.9" />
<text x="151.3" y="1448.5" font-size="11.5" textLength="30.5" lengthAdjust="spacingAndGlyphs" >Code</text>
<text x="89.4" y="1455.4" font-size="11.5" textLength="34.5" lengthAdjust="spacingAndGlyphs" >Stroke</text>
<text x="210" y="1451.6" font-size="13.5" text-anchor="middle" >A</text>
<text x="263" y="1451.6" font-size="13.5" text-anchor="middle" >B</text>
<text x="316.2" y="1451.6" font-size="13.5" text-anchor="middle" >C</text>
<text x="369.5" y="1451.6" font-size="13.5" text-anchor="middle" >E</text>
<text x="422.2" y="1451.6" font-size="13.5" text-anchor="middle" >F</text>
<text x="475" y="1451.6" font-size="13.5" text-anchor="middle" >L</text>
<text x="528.4" y="1451.6" font-size="13.5" text-anchor="middle" >N</text>
<text x="135.8" y="1475.7" font-size="13.5" text-anchor="middle" >10</text>
<text x="221.3" y="1475.7" font-size="13.5" text-anchor="end" >90</text>
<text x="263" y="1475.7" font-size="13.5" text-anchor="middle" >15</text>
<text x="326.3" y="1475.7" font-size="13.5" text-anchor="end" >40</text>
<text x="369.8" y="1475.7" font-size="13.5" text-anchor="middle" >25</text>
<line x1="414.2" y1="1469.5" x2="429.8" y2="1469.5" stroke="#231815" stroke-width="1" />
<text x="486.2" y="1475.7" font-size="13.5" text-anchor="end" >85</text>
<text x="528.4" y="1475.7" font-size="13.5" text-anchor="middle" >2</text>
<text x="135.8" y="1499.6" font-size="13.5" text-anchor="middle" >20</text>
<text x="221.3" y="1499.6" font-size="13.5" text-anchor="end" >100</text>
<text x="263" y="1499.6" font-size="13.5" text-anchor="middle" >25</text>
<text x="326.3" y="1499.6" font-size="13.5" text-anchor="end" >50</text>
<text x="369.8" y="1499.6" font-size="13.5" text-anchor="middle" >35</text>
<line x1="414.2" y1="1493.5" x2="429.8" y2="1493.5" stroke="#231815" stroke-width="1" />
<text x="486.2" y="1499.6" font-size="13.5" text-anchor="end" >95</text>
<text x="528.4" y="1499.6" font-size="13.5" text-anchor="middle" >2</text>
<text x="135.8" y="1524" font-size="13.5" text-anchor="middle" >30</text>
<text x="221.3" y="1524" font-size="13.5" text-anchor="end" >110</text>
<text x="263" y="1524" font-size="13.5" text-anchor="middle" >35</text>
<text x="326.3" y="1524" font-size="13.5" text-anchor="end" >60</text>
<text x="369.8" y="1524" font-size="13.5" text-anchor="middle" >45</text>
<line x1="414.2" y1="1517.5" x2="429.8" y2="1517.5" stroke="#231815" stroke-width="1" />
<text x="486.2" y="1524" font-size="13.5" text-anchor="end" >105</text>
<text x="528.4" y="1524" font-size="13.5" text-anchor="middle" >2</text>
<text x="135.8" y="1547.9" font-size="13.5" text-anchor="middle" >40</text>
<text x="221.3" y="1547.9" font-size="13.5" text-anchor="end" >120</text>
<text x="263" y="1547.9" font-size="13.5" text-anchor="middle" >45</text>
<text x="326.3" y="1547.9" font-size="13.5" text-anchor="end" >70</text>
<text x="369.8" y="1547.9" font-size="13.5" text-anchor="middle" >55</text>
<line x1="414.2" y1="1541.5" x2="429.8" y2="1541.5" stroke="#231815" stroke-width="1" />
<text x="486.2" y="1547.9" font-size="13.5" text-anchor="end" >115</text>
<text x="528.4" y="1547.9" font-size="13.5" text-anchor="middle" >2</text>
<text x="135.8" y="1571.1" font-size="13.5" text-anchor="middle" >50</text>
<text x="221.3" y="1571.1" font-size="13.5" text-anchor="end" >130</text>
<text x="263" y="1571.1" font-size="13.5" text-anchor="middle" >55</text>
<text x="326.3" y="1571.1" font-size="13.5" text-anchor="end" >80</text>
<text x="369.8" y="1571.1" font-size="13.5" text-anchor="middle" >65</text>
<text x="422.2" y="1571.1" font-size="13.5" text-anchor="middle" >40</text>
<text x="486.2" y="1571.1" font-size="13.5" text-anchor="end" >125</text>
<text x="528.4" y="1571.1" font-size="13.5" text-anchor="middle" >3</text>
<text x="135.8" y="1595" font-size="13.5" text-anchor="middle" >60</text>
<text x="221.3" y="1595" font-size="13.5" text-anchor="end" >140</text>
<text x="263" y="1595" font-size="13.5" text-anchor="middle" >65</text>
<text x="326.3" y="1595" font-size="13.5" text-anchor="end" >90</text>
<text x="369.8" y="1595" font-size="13.5" text-anchor="middle" >75</text>
<text x="422.2" y="1595" font-size="13.5" text-anchor="middle" >45</text>
<text x="486.2" y="1595" font-size="13.5" text-anchor="end" >135</text>
<text x="528.4" y="1595" font-size="13.5" text-anchor="middle" >3</text>
<text x="135.8" y="1619.2" font-size="13.5" text-anchor="middle" >80</text>
<text x="221.3" y="1619.2" font-size="13.5" text-anchor="end" >160</text>
<text x="263" y="1619.2" font-size="13.5" text-anchor="middle" >85</text>
<text x="326.3" y="1619.2" font-size="13.5" text-anchor="end" >110</text>
<text x="369.8" y="1619.2" font-size="13.5" text-anchor="middle" >95</text>
<text x="422.2" y="1619.2" font-size="13.5" text-anchor="middle" >55</text>
<text x="486.2" y="1619.2" font-size="13.5" text-anchor="end" >155</text>
<text x="528.4" y="1619.2" font-size="13.5" text-anchor="middle" >3</text>
</g>

<!-- NOTES -->
<g id="notes" font-size="14.4">
<text x="673.5" y="1307.8" textLength="40.5" lengthAdjust="spacingAndGlyphs">Notes:</text>
<text x="718" y="1307.8">1.</text>
<text x="733.2" y="1307.8" textLength="310" lengthAdjust="spacingAndGlyphs">This product is the head side end keep cylinder.</text>
<text x="717" y="1324.8">2.</text>
<text x="733.2" y="1324.8" textLength="399" lengthAdjust="spacingAndGlyphs">In this product, stroke adjustment of –5<tspan font-size="20" dy="2">~</tspan><tspan dy="-2">0mm [–0.197</tspan><tspan font-size="20" dy="2">~</tspan><tspan dy="-2">0in.]</tspan></text>
<text x="733.2" y="1342.3" textLength="258.8" lengthAdjust="spacingAndGlyphs">can be made on the extended side only.</text>
<text x="733.2" y="1359.7" textLength="368.6" lengthAdjust="spacingAndGlyphs">Stroke adjustment cannot be made on the retracted side.</text>
</g>

<!-- TABLE -->
<g id="table">
</g>

<text x="88.5" y="1708.7" font-size="23" textLength="38" lengthAdjust="spacingAndGlyphs">915</text>
</svg>
</body></html>
